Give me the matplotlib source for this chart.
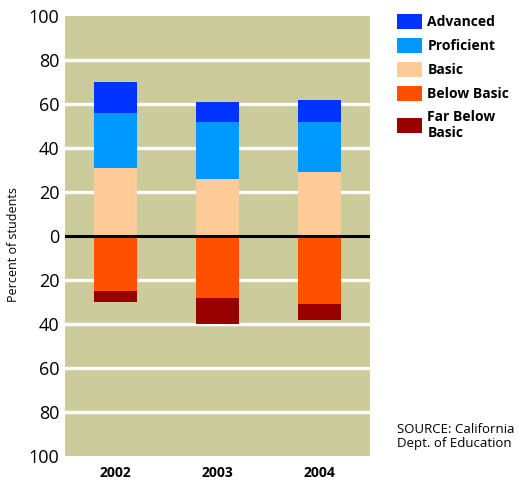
import matplotlib.pyplot as plt
from matplotlib.patches import Patch

plt.rcParams["font.family"] = ["Open Sans", "DejaVu Sans"]

years = ["2002", "2003", "2004"]
# percent of students above the zero line (stacked upward)
basic = [31, 26, 29]
proficient = [25, 26, 23]
advanced = [14, 9, 10]
# percent of students below the zero line (stacked downward)
below_basic = [25, 28, 31]
far_below_basic = [5, 12, 7]

levels = ["Advanced", "Proficient", "Basic", "Below Basic", "Far Below\nBasic"]
colors = ["#0033ff", "#0099ff", "#ffcc99", "#ff5000", "#990000"]
y_ticks = [-100, -80, -60, -40, -20, 0, 20, 40, 60, 80, 100]

fig = plt.figure(figsize=(5.19, 4.80), dpi=100)
ax = fig.add_axes([0.1252, 0.05, 0.5877, 0.9167])
ax.set_facecolor("#cccb9c")

x = list(range(len(years)))
width = 0.42

# upward stack
ax.bar(x, basic, width, color=colors[2], zorder=3)
prof_bottom = basic
ax.bar(x, proficient, width, bottom=prof_bottom, color=colors[1], zorder=3)
adv_bottom = [b + p for b, p in zip(basic, proficient)]
ax.bar(x, advanced, width, bottom=adv_bottom, color=colors[0], zorder=3)

# downward stack
ax.bar(x, [-v for v in below_basic], width, color=colors[3], zorder=3)
ax.bar(x, [-v for v in far_below_basic], width,
       bottom=[-v for v in below_basic], color=colors[4], zorder=3)

for t in y_ticks:
    if t not in (0, -100, 100):
        ax.axhline(t, color="white", linewidth=2.4, zorder=1)
ax.axhline(0, color="black", linewidth=2.2, zorder=4)

ax.set_xlim(-0.5, 2.5)
ax.set_ylim(-100, 100)
ax.set_yticks(y_ticks)
ax.set_yticklabels([str(abs(t)) for t in y_ticks], fontsize=13)
ax.set_xticks(x)
ax.set_xticklabels(years, fontsize=10, fontweight="bold")
ax.tick_params(length=0, pad=4)
ax.tick_params(axis="x", pad=7)
for s in ax.spines.values():
    s.set_visible(False)

fig.text(0.026, 0.49, "Percent of students", rotation=90, fontsize=9,
         ha="center", va="center")

handles = [Patch(facecolor=c) for c in colors]
fig.legend(handles, levels, loc="upper left", bbox_to_anchor=(0.755, 0.982),
           frameon=False, prop={"weight": "bold", "size": 10},
           handlelength=1.75, handleheight=1.3, handletextpad=0.4,
           labelspacing=0.62, borderaxespad=0)

fig.text(0.765, 0.062, "SOURCE: California\nDept. of Education", fontsize=9.5,
         ha="left", va="bottom", linespacing=1.1)

fig.savefig("out.png", dpi=100)
